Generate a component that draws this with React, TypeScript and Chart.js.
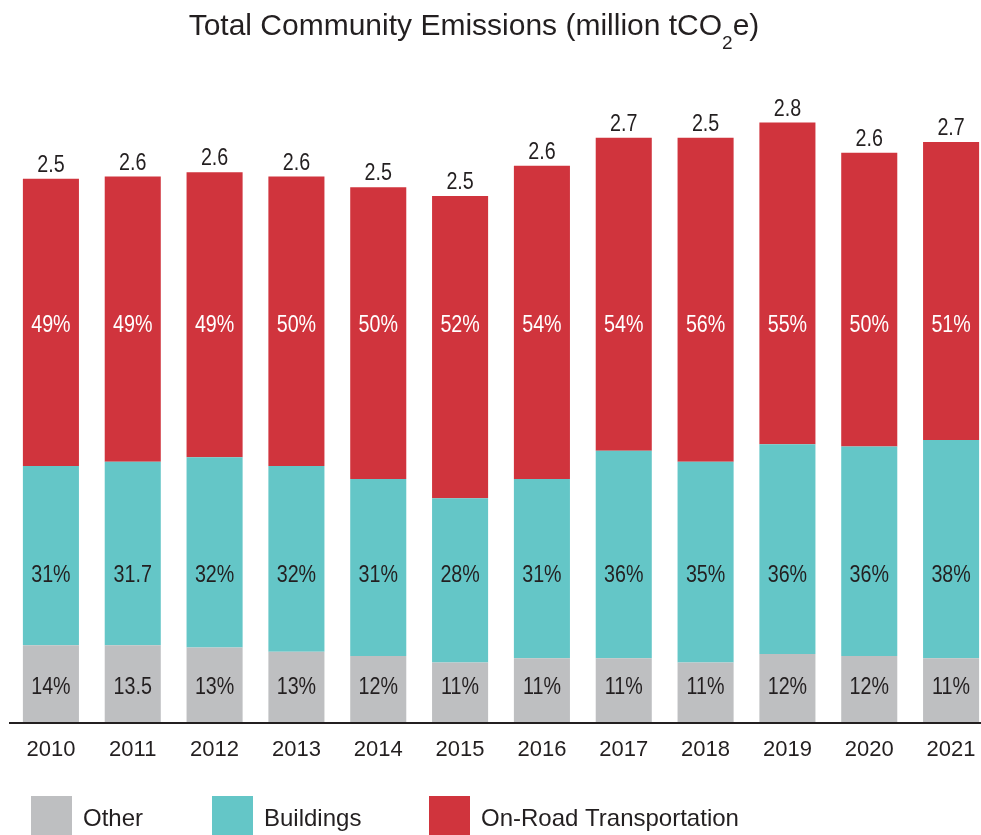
import React, { useEffect, useRef } from 'react';
import { Chart, registerables } from 'chart.js';

Chart.register(...registerables);

// ---------- data ----------
const years = ['2010', '2011', '2012', '2013', '2014', '2015', '2016', '2017', '2018', '2019', '2020', '2021'];
// million tCO2e (segment heights)
const otherValues = [0.36, 0.36, 0.35, 0.33, 0.31, 0.28, 0.30, 0.30, 0.28, 0.32, 0.31, 0.30];
const buildingValues = [0.83, 0.85, 0.88, 0.86, 0.82, 0.76, 0.83, 0.96, 0.93, 0.97, 0.97, 1.01];
const roadValues = [1.33, 1.32, 1.32, 1.34, 1.35, 1.40, 1.45, 1.45, 1.50, 1.49, 1.36, 1.38];

const totalLabels = ['2.5', '2.6', '2.6', '2.6', '2.5', '2.5', '2.6', '2.7', '2.5', '2.8', '2.6', '2.7'];
const otherLabels = ['14%', '13.5', '13%', '13%', '12%', '11%', '11%', '11%', '11%', '12%', '12%', '11%'];
const buildingLabels = ['31%', '31.7', '32%', '32%', '31%', '28%', '31%', '36%', '35%', '36%', '36%', '38%'];
const roadLabels = ['49%', '49%', '49%', '50%', '50%', '52%', '54%', '54%', '56%', '55%', '50%', '51%'];

const seriesNames = ['Other', 'Buildings', 'On-Road Transportation'];
const seriesColors = ['#bebfc1', '#64c6c7', '#d0343d'];

const TEXT = '#231f20';
const SANS = '"Liberation Sans", Arial, Helvetica, sans-serif';

function hasFont(name: string): boolean {
  const c = document.createElement('canvas').getContext('2d');
  if (!c) return false;
  const s = 'abcdefgWWmmil2.5%';
  c.font = '40px monospace';
  const a = c.measureText(s).width;
  c.font = `40px "${name}", monospace`;
  const b = c.measureText(s).width;
  return Math.abs(a - b) > 0.5;
}

let narrowOk: boolean | null = null;

function drawNarrow(ctx: CanvasRenderingContext2D, text: string, x: number, y: number, size: number, color: string, baseline: CanvasTextBaseline) {
  if (narrowOk === null) narrowOk = hasFont('Liberation Sans Narrow');
  ctx.save();
  ctx.fillStyle = color;
  ctx.textAlign = 'center';
  ctx.textBaseline = baseline;
  if (narrowOk) {
    ctx.font = `${size}px "Liberation Sans Narrow"`;
    ctx.fillText(text, x, y);
  } else {
    ctx.font = `${size}px ${SANS}`;
    ctx.translate(x, y);
    ctx.scale(0.82, 1);
    ctx.fillText(text, 0, 0);
  }
  ctx.restore();
}

const labelPlugin = {
  id: 'segmentLabels',
  afterDatasetsDraw(chart: any) {
    const ctx: CanvasRenderingContext2D = chart.ctx;
    const y = chart.scales.y;
    const metaOther = chart.getDatasetMeta(0);
    const metaRoad = chart.getDatasetMeta(2);
    const otherY = y.getPixelForValue(0.165);
    const buildY = y.getPixelForValue(0.685);
    const roadY = y.getPixelForValue(1.84);
    years.forEach((_, i) => {
      const x = metaOther.data[i].x;
      drawNarrow(ctx, otherLabels[i], x, otherY, 24, TEXT, 'middle');
      drawNarrow(ctx, buildingLabels[i], x, buildY, 24, TEXT, 'middle');
      drawNarrow(ctx, roadLabels[i], x, roadY, 24, '#ffffff', 'middle');
      const top = metaRoad.data[i].y;
      drawNarrow(ctx, totalLabels[i], x, top - 7, 24, TEXT, 'alphabetic');
    });
  },
};

const titlePlugin = {
  id: 'customTitle',
  afterDraw(chart: any) {
    const ctx: CanvasRenderingContext2D = chart.ctx;
    ctx.save();
    ctx.fillStyle = TEXT;
    ctx.textBaseline = 'alphabetic';
    ctx.textAlign = 'left';
    const big = `30px ${SANS}`;
    const small = `19px ${SANS}`;
    const p1 = 'Total Community Emissions (million tCO';
    const p2 = '2';
    const p3 = 'e)';
    ctx.font = big;
    const w1 = ctx.measureText(p1).width;
    const w3 = ctx.measureText(p3).width;
    ctx.font = small;
    const w2 = ctx.measureText(p2).width;
    const total = w1 + w2 + w3;
    let x = 474 - total / 2;
    const base = 35;
    ctx.font = big;
    ctx.fillText(p1, x, base);
    x += w1;
    ctx.font = small;
    ctx.fillText(p2, x, base + 14);
    x += w2;
    ctx.font = big;
    ctx.fillText(p3, x, base);

    // legend
    const boxX = [31, 212, 429];
    seriesNames.forEach((name, i) => {
      ctx.fillStyle = seriesColors[i];
      ctx.fillRect(boxX[i], 796, 41, 40);
      ctx.fillStyle = TEXT;
      ctx.font = `24px ${SANS}`;
      ctx.fillText(name, boxX[i] + 52, 826);
    });
    ctx.restore();
  },
};

export default function App() {
  const ref = useRef<HTMLCanvasElement | null>(null);

  useEffect(() => {
    if (!ref.current) return;
    const chart = new Chart(ref.current, {
      type: 'bar',
      data: {
        labels: years,
        datasets: [
          { label: seriesNames[0], data: otherValues, backgroundColor: seriesColors[0] },
          { label: seriesNames[1], data: buildingValues, backgroundColor: seriesColors[1] },
          { label: seriesNames[2], data: roadValues, backgroundColor: seriesColors[2] },
        ],
      },
      options: {
        responsive: false,
        animation: false,
        layout: { padding: { top: 75, left: 10, right: 0, bottom: 72 } },
        datasets: { bar: { categoryPercentage: 0.685, barPercentage: 1, borderWidth: 0 } },
        plugins: {
          legend: { display: false },
          title: { display: false },
          tooltip: { enabled: false },
        },
        scales: {
          x: {
            stacked: true,
            grid: { display: false, drawTicks: false },
            border: { display: true, color: TEXT, width: 2, z: 1 },
            ticks: { padding: 14, color: TEXT, font: { family: SANS, size: 22 } },
            afterFit: (s: any) => { s.height = 40; },
          },
          y: { stacked: true, display: false, min: 0, max: 3 },
        },
      } as any,
      plugins: [labelPlugin, titlePlugin],
    });
    return () => chart.destroy();
  }, []);

  return (
    <div style={{ position: 'fixed', left: 0, top: 0, width: 981, height: 835, overflow: 'hidden', background: '#fff' }}>
      <canvas ref={ref} width={992} height={835} style={{ display: 'block', width: 992, height: 835 }} />
    </div>
  );
}
